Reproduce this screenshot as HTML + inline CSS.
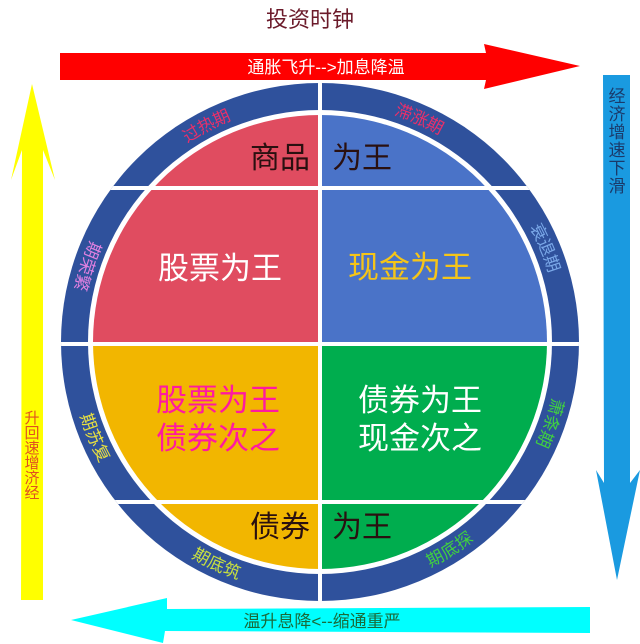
<!DOCTYPE html>
<html><head><meta charset="utf-8"><style>
html,body{margin:0;padding:0;background:#fff;}
svg{display:block;font-family:"Liberation Sans","Noto Sans CJK SC",sans-serif;}
</style></head><body>
<svg width="640" height="644" viewBox="0 0 640 644" xmlns="http://www.w3.org/2000/svg">
<defs>
<clipPath id="inner"><circle cx="320" cy="342" r="227"/></clipPath>
<clipPath id="outer"><circle cx="320" cy="342" r="259"/></clipPath>
<path id="p1"/><path id="p2"/><path id="p3"/><path id="p4"/>
<path id="p5"/><path id="p6"/><path id="p7"/><path id="p8"/>
</defs>
<text x="310" y="27" font-size="22" fill="#6b1a2a" text-anchor="middle">投资时钟</text>
<polygon points="60,53 486,53 484,44 580,66 484,89 486,80 60,80" fill="#ff0000"/>
<text x="326" y="73" font-size="17" fill="#fff" text-anchor="middle">通胀飞升--&gt;加息降温</text>
<polygon points="603,75 630,75 630,483 640,470 617,580 596,470 604,483" fill="#1a9ae0"/>
<g font-size="17" fill="#1a3a6a" text-anchor="middle">
<text x="617" y="102">经</text><text x="617" y="120">济</text><text x="617" y="138">增</text><text x="617" y="156">速</text><text x="617" y="174">下</text><text x="617" y="192">滑</text>
</g>
<polygon points="32,84 55,180 43,150 43,600 21,600 22,150 11,180" fill="#ffff00"/>
<g font-size="15" fill="#e05020" text-anchor="middle">
<text x="32" y="423">升</text><text x="32" y="438">回</text><text x="32" y="453">速</text><text x="32" y="468">增</text><text x="32" y="483">济</text><text x="32" y="498">经</text>
</g>
<polygon points="590,607 590,633 165,631 163,643 71,620 167,598 167,609" fill="#00ffff"/>
<text x="322" y="627" font-size="17" fill="#1a6a3a" text-anchor="middle">温升息降&lt;--缩通重严</text>
<circle cx="320" cy="342" r="259" fill="#2f519c"/>
<circle cx="320" cy="342" r="232" fill="#fff"/>
<g clip-path="url(#inner)">
<rect x="90" y="110" width="230" height="235" fill="#e04c60"/>
<rect x="320" y="110" width="230" height="235" fill="#4a73c8"/>
<rect x="90" y="344" width="230" height="240" fill="#f2b600"/>
<rect x="320" y="344" width="230" height="240" fill="#00ad4e"/>
</g>
<g clip-path="url(#outer)" stroke="#fff">
<line x1="50" y1="188" x2="590" y2="188" stroke-width="4"/>
<line x1="50" y1="344" x2="590" y2="344" stroke-width="4"/>
<line x1="50" y1="502" x2="590" y2="502" stroke-width="4"/>
<line x1="320" y1="70" x2="320" y2="610" stroke-width="4"/>
</g>
<g font-size="30" fill="#2a1010">
<text x="310" y="168" text-anchor="end">商品</text>
<text x="332" y="168">为王</text>
<text x="310" y="537" text-anchor="end">债券</text>
<text x="332" y="537">为王</text>
</g>
<g font-size="31" text-anchor="middle">
<text x="220" y="279" fill="#fff">股票为王</text>
<text x="410" y="278" fill="#f5c518">现金为王</text>
<text x="218" y="411" fill="#ff1aa0">股票为王</text>
<text x="218" y="449" fill="#ff1aa0">债券次之</text>
<text x="420" y="411" fill="#fff">债券为王</text>
<text x="420" y="449" fill="#fff">现金次之</text>
</g>
<g font-size="17" dominant-baseline="central" text-anchor="middle">
<text fill="#e8306a"><textPath href="#p1" startOffset="50%">过热期</textPath></text>
<text fill="#e8306a"><textPath href="#p2" startOffset="50%">滞涨期</textPath></text>
<text fill="#7aa8e8"><textPath href="#p3" startOffset="50%">衰退期</textPath></text>
<text fill="#40d040"><textPath href="#p4" startOffset="50%">萧条期</textPath></text>
<text fill="#40d040"><textPath href="#p5" startOffset="50%">期底探</textPath></text>
<text fill="#c8e040"><textPath href="#p6" startOffset="50%">期底筑</textPath></text>
<text fill="#e8e040"><textPath href="#p7" startOffset="50%">期苏复</textPath></text>
<text fill="#e080e0"><textPath href="#p8" startOffset="50%">期荣繁</textPath></text>
</g>
</svg>
<script>
(function(){
var cx=320,cy=342,r=245;
function pt(a){a=a*Math.PI/180;return (cx+r*Math.cos(a)).toFixed(2)+" "+(cy+r*Math.sin(a)).toFixed(2);}
var L=[[-117.7,1],[-66,1],[-22.7,1],[19.4,1],[58,0],[115,0],[157,0],[198,0]];
for(var i=0;i<L.length;i++){
var a=L[i][0],cw=L[i][1],d;
if(cw){d="M"+pt(a-35)+" A"+r+" "+r+" 0 0 1 "+pt(a+35);}
else{d="M"+pt(a+35)+" A"+r+" "+r+" 0 0 0 "+pt(a-35);}
document.getElementById("p"+(i+1)).setAttribute("d",d);
}
})();
</script>
</body></html>
